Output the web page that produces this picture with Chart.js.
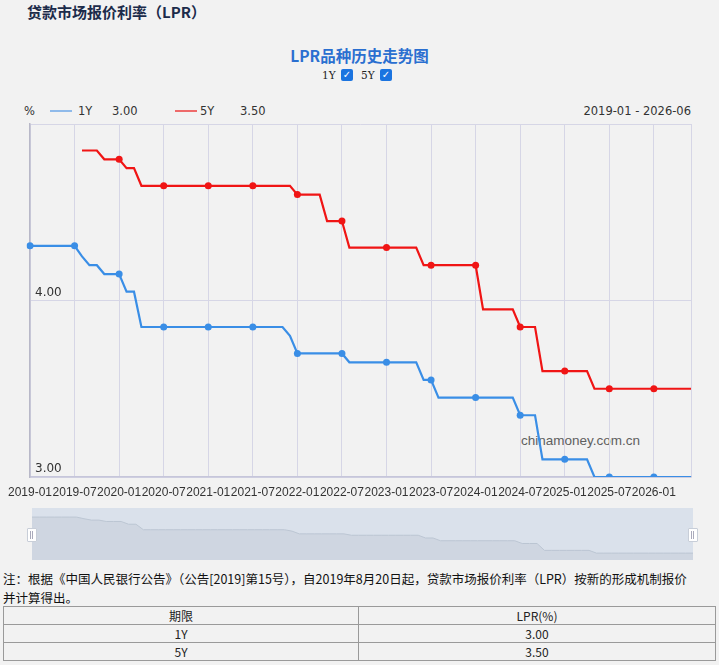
<!DOCTYPE html>
<html><head><meta charset="utf-8">
<script src="https://cdn.jsdelivr.net/npm/chart.js@4.4.0/dist/chart.umd.min.js"></script>
<style>
html,body{margin:0;padding:0;background:#f2f2f2;width:719px;height:665px;overflow:hidden;font-family:"Noto Sans CJK SC","Liberation Sans",sans-serif;}
.abs{position:absolute;white-space:nowrap;}
#title{left:27px;top:2px;font-size:15px;font-weight:bold;color:#1c2b4a;line-height:20px;}
#ctitle{left:0;width:719px;top:45px;text-align:center;font-size:15.5px;font-weight:bold;color:#2a6fd0;line-height:20px;}
.ck{font-family:"DejaVu Serif",serif;font-size:10.5px;color:#222;line-height:14px;}
.box{width:12px;height:12px;background:#1b74e0;border-radius:2px;color:#fff;font-size:10px;line-height:12px;text-align:center;font-weight:bold;font-family:"DejaVu Sans",sans-serif;}
.lg{font-family:"DejaVu Sans",sans-serif;font-size:11.5px;color:#333;line-height:14px;top:104px;}
.seg{height:2px;width:22px;top:110px;}
#wm{left:521px;top:433px;font-family:"Liberation Sans",sans-serif;font-size:13.5px;color:#606060;}
#main{left:0;top:0;}
#slider{left:32px;top:508px;width:661px;height:52px;background:#dae1eb;}
.hd{width:8px;height:12px;background:#fff;border:1px solid #c8ced8;top:528px;border-radius:1px;}
.hd span{position:absolute;left:2px;top:2px;width:3px;height:8px;border-left:1px solid #aab;border-right:1px solid #aab;box-sizing:border-box;}
#note{left:3px;top:569px;font-size:12.5px;line-height:19px;color:#111;}
#tbl{position:absolute;left:3px;top:606px;width:713px;border-collapse:collapse;font-size:12px;color:#222;}
#tbl td{border:1px solid #9a9a9a;height:17px;padding:0;text-align:center;line-height:17px;}
</style></head>
<body>
<div id="title" class="abs">贷款市场报价利率（LPR）</div>
<div id="ctitle" class="abs">LPR品种历史走势图</div>
<div class="abs ck" style="left:322px;top:68px;">1Y</div>
<div class="abs box" style="left:341px;top:69px;">✓</div>
<div class="abs ck" style="left:361px;top:68px;">5Y</div>
<div class="abs box" style="left:380px;top:69px;">✓</div>

<div class="abs lg" style="left:24px;">%</div>
<div class="abs seg" style="left:50px;background:#8fbaea;"></div>
<div class="abs lg" style="left:78px;">1Y</div>
<div class="abs lg" id="v1" style="left:112px;"></div>
<div class="abs seg" style="left:175px;background:#ee6a6a;"></div>
<div class="abs lg" style="left:200px;">5Y</div>
<div class="abs lg" id="v5" style="left:240px;"></div>
<div class="abs lg" id="range" style="right:28px;"></div>

<div id="wm" class="abs">chinamoney.com.cn</div>
<canvas id="main" class="abs" width="719" height="505"></canvas>

<div id="slider" class="abs"><canvas id="mini" width="661" height="52"></canvas></div>
<div class="abs hd" style="left:27px;"><span></span></div>
<div class="abs hd" style="left:688px;"><span></span></div>

<div id="note" class="abs">注：根据《中国人民银行公告》（公告[2019]第15号），自2019年8月20日起，贷款市场报价利率（LPR）按新的形成机制报价<br>并计算得出。</div>
<table id="tbl">
<tr><td style="width:354px;">期限</td><td>LPR(%)</td></tr>
<tr><td id="t1n"></td><td id="t1v"></td></tr>
<tr><td id="t5n"></td><td id="t5v"></td></tr>
</table>

<script>
const months = [
 '2019-01','2019-02','2019-03','2019-04','2019-05','2019-06','2019-07','2019-08','2019-09','2019-10','2019-11','2019-12',
 '2020-01','2020-02','2020-03','2020-04','2020-05','2020-06','2020-07','2020-08','2020-09','2020-10','2020-11','2020-12',
 '2021-01','2021-02','2021-03','2021-04','2021-05','2021-06','2021-07','2021-08','2021-09','2021-10','2021-11','2021-12',
 '2022-01','2022-02','2022-03','2022-04','2022-05','2022-06','2022-07','2022-08','2022-09','2022-10','2022-11','2022-12',
 '2023-01','2023-02','2023-03','2023-04','2023-05','2023-06','2023-07','2023-08','2023-09','2023-10','2023-11','2023-12',
 '2024-01','2024-02','2024-03','2024-04','2024-05','2024-06','2024-07','2024-08','2024-09','2024-10','2024-11','2024-12',
 '2025-01','2025-02','2025-03','2025-04','2025-05','2025-06','2025-07','2025-08','2025-09','2025-10','2025-11','2025-12',
 '2026-01','2026-02','2026-03','2026-04','2026-05','2026-06'
];
const seriesNames = ['1Y','5Y'];
const lpr1Y = [
 4.31,4.31,4.31,4.31,4.31,4.31,4.31,4.25,4.20,4.20,4.15,4.15,
 4.15,4.05,4.05,3.85,3.85,3.85,3.85,3.85,3.85,3.85,3.85,3.85,
 3.85,3.85,3.85,3.85,3.85,3.85,3.85,3.85,3.85,3.85,3.85,3.80,
 3.70,3.70,3.70,3.70,3.70,3.70,3.70,3.65,3.65,3.65,3.65,3.65,
 3.65,3.65,3.65,3.65,3.65,3.55,3.55,3.45,3.45,3.45,3.45,3.45,
 3.45,3.45,3.45,3.45,3.45,3.45,3.35,3.35,3.35,3.10,3.10,3.10,
 3.10,3.10,3.10,3.10,3.00,3.00,3.00,3.00,3.00,3.00,3.00,3.00,
 3.00,3.00,3.00,3.00,3.00,3.00
];
const lpr5Y = [
 null,null,null,null,null,null,null,4.85,4.85,4.85,4.80,4.80,
 4.80,4.75,4.75,4.65,4.65,4.65,4.65,4.65,4.65,4.65,4.65,4.65,
 4.65,4.65,4.65,4.65,4.65,4.65,4.65,4.65,4.65,4.65,4.65,4.65,
 4.60,4.60,4.60,4.60,4.45,4.45,4.45,4.30,4.30,4.30,4.30,4.30,
 4.30,4.30,4.30,4.30,4.30,4.20,4.20,4.20,4.20,4.20,4.20,4.20,
 4.20,3.95,3.95,3.95,3.95,3.95,3.85,3.85,3.85,3.60,3.60,3.60,
 3.60,3.60,3.60,3.60,3.50,3.50,3.50,3.50,3.50,3.50,3.50,3.50,
 3.50,3.50,3.50,3.50,3.50,3.50
];
const yMin = 3, yMax = 5, yStep = 1;

const last1 = lpr1Y[lpr1Y.length-1].toFixed(2);
const last5 = lpr5Y[lpr5Y.length-1].toFixed(2);
document.getElementById('v1').textContent = last1;
document.getElementById('v5').textContent = last5;
document.getElementById('range').textContent = months[0] + ' - ' + months[months.length-1];
document.getElementById('t1n').textContent = seriesNames[0];
document.getElementById('t1v').textContent = last1;
document.getElementById('t5n').textContent = seriesNames[1];
document.getElementById('t5v').textContent = last5;

const lastIdx = months.length - 1;
const ptR = (c) => (c.dataIndex % 6 === 0 ? 3.5 : 0);

new Chart(document.getElementById('main'), {
  type: 'line',
  data: {
    labels: months,
    datasets: [
      {label: seriesNames[0], data: lpr1Y, borderColor: '#3a8ee6', backgroundColor: '#3a8ee6', borderWidth: 2.2, tension: 0,
       pointRadius: ptR, pointHoverRadius: 0, pointBorderWidth: 0, pointBackgroundColor: '#3a8ee6'},
      {label: seriesNames[1], data: lpr5Y, borderColor: '#f01515', backgroundColor: '#f01515', borderWidth: 2.2, tension: 0,
       pointRadius: ptR, pointHoverRadius: 0, pointBorderWidth: 0, pointBackgroundColor: '#f01515'}
    ]
  },
  options: {
    responsive: false, animation: false, events: [],
    layout: {padding: {left: 29, right: 28, top: 124, bottom: 0}},
    plugins: {legend: {display: false}, tooltip: {enabled: false}},
    scales: {
      x: {
        type: 'category', offset: false,
        grid: {color: (c) => ((c.index % 6 === 0 || c.index === lastIdx) ? '#d6d6e6' : 'rgba(0,0,0,0)'), drawTicks: false, lineWidth: 1},
        border: {display: true, color: '#c6c6da', width: 1.5},
        ticks: {autoSkip: false, maxRotation: 0, minRotation: 0, padding: 8, color: '#333',
          font: {family: 'Liberation Sans', size: 12},
          callback: (v, i) => (i % 6 === 0 ? months[i] : '')},
        afterFit: (s) => { s.height = 28; }
      },
      y: {
        min: yMin, max: yMax,
        ticks: {stepSize: yStep, mirror: true, padding: 5, labelOffset: -8, color: '#333',
          font: {family: 'DejaVu Sans', size: 12},
          callback: (v) => (v === yMax ? '' : Number(v).toFixed(2))},
        grid: {color: '#d6d6e6', drawTicks: false},
        border: {display: true, color: '#b8b8c8', width: 1.5},
        afterFit: (s) => { s.width = 0; }
      }
    }
  }
});

new Chart(document.getElementById('mini'), {
  type: 'line',
  data: {labels: months, datasets: [{data: lpr1Y, borderColor: '#bcc6d3', borderWidth: 1, fill: 'start', backgroundColor: '#cfd6e1', pointRadius: 0, tension: 0}]},
  options: {
    responsive: false, animation: false, events: [],
    layout: {padding: 0},
    plugins: {legend: {display: false}, tooltip: {enabled: false}},
    scales: {x: {display: false}, y: {display: false, min: 2.75, max: 4.64}}
  }
});
</script>
</body></html>
